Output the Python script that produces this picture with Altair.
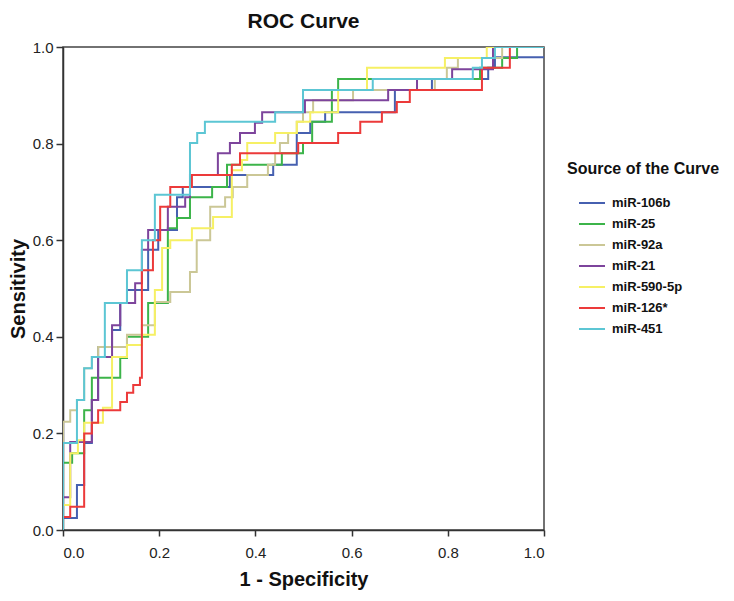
import altair as alt
import pandas as pd

names = ["miR-106b", "miR-25", "miR-92a", "miR-21", "miR-590-5p", "miR-126*", "miR-451"]
colors = ["#4660b0", "#3cb44a", "#cbc796", "#7d449c", "#f6f064", "#ec3a3a", "#5cc6d4"]

# ROC step points: x where the curve jumps, y after the jump (1 - specificity, sensitivity)
mir106b_x = [0, 0, 0.029, 0.044, 0.060, 0.073, 0.102, 0.119, 0.133, 0.177, 0.198, 0.237, 0.249, 0.347, 0.437, 0.486, 0.514, 0.545, 0.690, 0.767, 0.884, 0.898, 1.0]
mir106b_y = [0, 0.025, 0.093, 0.180, 0.269, 0.379, 0.414, 0.470, 0.497, 0.580, 0.621, 0.689, 0.710, 0.735, 0.756, 0.822, 0.845, 0.865, 0.911, 0.934, 0.957, 0.979, 0.979]

mir25_x = [0, 0, 0.019, 0.044, 0.060, 0.119, 0.133, 0.177, 0.218, 0.237, 0.264, 0.310, 0.341, 0.455, 0.499, 0.518, 0.559, 0.572, 0.867, 0.913, 0.944, 1.0]
mir25_y = [0, 0.139, 0.159, 0.248, 0.315, 0.356, 0.400, 0.470, 0.625, 0.646, 0.689, 0.710, 0.756, 0.780, 0.801, 0.845, 0.911, 0.934, 0.957, 0.977, 1.0, 1.0]

mir92a_x = [0, 0, 0.015, 0.029, 0.044, 0.060, 0.073, 0.133, 0.164, 0.191, 0.223, 0.264, 0.278, 0.306, 0.337, 0.353, 0.383, 0.426, 0.441, 0.451, 0.468, 0.486, 0.499, 0.520, 0.603, 0.773, 0.798, 0.821, 0.913, 1.0]
mir92a_y = [0, 0.224, 0.248, 0.269, 0.335, 0.358, 0.379, 0.404, 0.424, 0.472, 0.493, 0.534, 0.600, 0.669, 0.689, 0.710, 0.735, 0.756, 0.780, 0.801, 0.822, 0.845, 0.865, 0.890, 0.911, 0.934, 0.957, 0.977, 1.0, 1.0]

mir21_x = [0, 0, 0.015, 0.060, 0.073, 0.102, 0.119, 0.150, 0.164, 0.177, 0.218, 0.254, 0.264, 0.322, 0.347, 0.368, 0.399, 0.414, 0.503, 0.676, 0.736, 0.809, 0.894, 1.0]
mir21_y = [0, 0.068, 0.182, 0.269, 0.358, 0.424, 0.470, 0.511, 0.580, 0.621, 0.669, 0.689, 0.735, 0.780, 0.801, 0.822, 0.843, 0.865, 0.890, 0.911, 0.934, 0.954, 1.0, 1.0]

mir590_x = [0, 0, 0.015, 0.031, 0.044, 0.083, 0.102, 0.133, 0.164, 0.191, 0.206, 0.223, 0.268, 0.312, 0.351, 0.372, 0.383, 0.441, 0.486, 0.514, 0.572, 0.632, 0.794, 0.881, 1.0]
mir590_y = [0, 0.052, 0.159, 0.186, 0.222, 0.253, 0.358, 0.383, 0.404, 0.497, 0.584, 0.600, 0.625, 0.648, 0.745, 0.766, 0.801, 0.822, 0.845, 0.865, 0.911, 0.957, 0.977, 1.0, 1.0]

mir126_x = [0, 0, 0.015, 0.044, 0.060, 0.073, 0.119, 0.133, 0.146, 0.160, 0.164, 0.187, 0.202, 0.223, 0.268, 0.351, 0.368, 0.489, 0.572, 0.618, 0.663, 0.694, 0.721, 0.871, 0.929, 1.0]
mir126_y = [0, 0.027, 0.048, 0.200, 0.222, 0.248, 0.265, 0.284, 0.300, 0.315, 0.538, 0.600, 0.669, 0.710, 0.735, 0.756, 0.780, 0.801, 0.822, 0.845, 0.865, 0.886, 0.911, 0.957, 1.0, 1.0]

mir451_x = [0, 0, 0.029, 0.044, 0.060, 0.087, 0.133, 0.164, 0.191, 0.264, 0.279, 0.295, 0.441, 0.499, 0.644, 0.852, 0.871, 0.898, 1.0]
mir451_y = [0, 0.180, 0.269, 0.335, 0.358, 0.470, 0.538, 0.600, 0.694, 0.801, 0.822, 0.845, 0.865, 0.911, 0.934, 0.957, 0.977, 1.0, 1.0]

series = [
    (names[0], mir106b_x, mir106b_y),
    (names[1], mir25_x, mir25_y),
    (names[2], mir92a_x, mir92a_y),
    (names[3], mir21_x, mir21_y),
    (names[4], mir590_x, mir590_y),
    (names[5], mir126_x, mir126_y),
    (names[6], mir451_x, mir451_y),
]

rows = []
for name, xs, ys in series:
    for i, (xv, yv) in enumerate(zip(xs, ys)):
        rows.append({"curve": name, "fpr": xv, "tpr": yv, "step": i})
df = pd.DataFrame(rows)

font = "Liberation Sans"

chart = alt.Chart(df).mark_line(interpolate="step-after", strokeWidth=2, clip=True).encode(
    x=alt.X("fpr:Q", title="1 - Specificity",
            scale=alt.Scale(domain=[0, 1], nice=False),
            axis=alt.Axis(values=[0, 0.2, 0.4, 0.6, 0.8, 1.0], format=".1f", grid=False,
                          tickSize=6, labelPadding=9, titlePadding=9)),
    y=alt.Y("tpr:Q", title="Sensitivity",
            scale=alt.Scale(domain=[0, 1], nice=False),
            axis=alt.Axis(values=[0, 0.2, 0.4, 0.6, 0.8, 1.0], format=".1f", grid=False,
                          tickSize=7, labelPadding=3, titlePadding=4)),
    color=alt.Color("curve:N", title="Source of the Curve",
                    scale=alt.Scale(domain=names, range=colors),
                    legend=alt.Legend(orient="none", legendX=504, legendY=114,
                                      symbolType="stroke", symbolSize=676, symbolStrokeWidth=2,
                                      titleFontSize=16, titleFont=font, titleFontWeight="bold",
                                      titleColor="#111", titlePadding=12, titleLimit=300,
                                      labelFontSize=13, labelFont=font, labelFontWeight="bold",
                                      labelColor="#111", rowPadding=-6.2, labelOffset=6,
                                      symbolOffset=11)),
    order=alt.Order("step:Q"),
).properties(
    width=481,
    height=483,
    autosize=alt.AutoSizeParams(type="none"),
    padding={"left": 55, "top": 39, "right": 182, "bottom": 62},
    title=alt.TitleParams("ROC Curve", fontSize=21, font=font, fontWeight="bold",
                          color="#111", offset=8, frame="group"),
).configure_view(
    stroke="#444", strokeWidth=1.5
).configure_axis(
    domainColor="#333", domainWidth=1.5, tickColor="#333", tickWidth=1.5,
    labelFont=font, labelFontSize=15, labelColor="#222",
    titleFont=font, titleFontSize=20, titleFontWeight="bold", titleColor="#111",
)

chart.save("out.html", embed_options={"renderer": "svg", "actions": False})
